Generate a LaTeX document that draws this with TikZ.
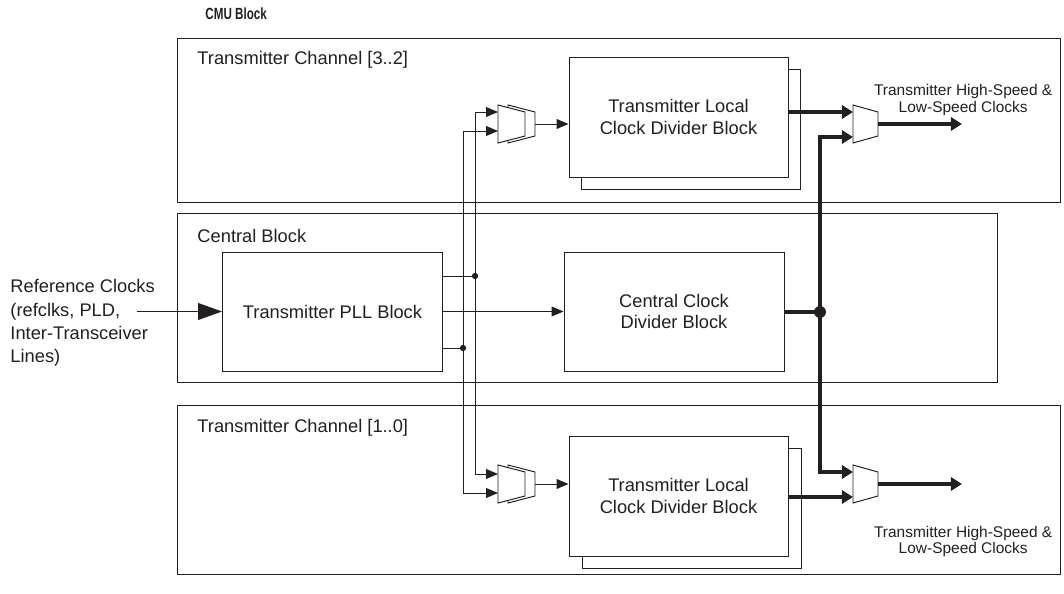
\documentclass[tikz,border=0pt]{standalone}
\usepackage{fontspec}
\setmainfont{Liberation Sans}
\setsansfont{Liberation Sans}
\usetikzlibrary{arrows.meta, positioning}
\definecolor{cink}{HTML}{231F20}
\tikzset{
  every picture/.style={font=\fontsize{13}{15.5}\selectfont, line width=0.7pt, color=cink},
  chanbox/.style={draw, line width=0.9pt, anchor=north west, inner sep=0pt},
  blk/.style={draw, fill=white, align=center, minimum width=5.5cm, minimum height=2.975cm, inner sep=0pt},
  tag/.style={anchor=west, inner sep=0pt},
  wire/.style={-{Triangle[length=8.5pt, width=7pt]}},
  refarrow/.style={-{Triangle[length=17pt, width=12pt]}},
  bus/.style={line width=3.3pt, -{Triangle[length=8pt, width=9.5pt]}},
  mux/.style={draw, fill=white, line join=miter},
  dot/.style={circle, fill, inner sep=0pt, minimum size=4.5pt},
  bigdot/.style={circle, fill, inner sep=0pt, minimum size=8.5pt},
  clklbl/.style={font=\fontsize{11}{11.5}\selectfont, align=center},
}

\begin{document}
\begin{tikzpicture}
  \useasboundingbox (0,0) rectangle (26.6,14.825);
  \node[font=\fontsize{11.5}{13}\selectfont\bfseries, anchor=west, inner sep=0pt] (cmu) at (5.125,14.475) {\scalebox{0.72}[1]{CMU Block}};
  % the three regions
  \node[chanbox, minimum width=22.075cm, minimum height=4.1cm] (chtop) at (4.425,13.875) {};
  \node[chanbox, minimum width=20.5cm, minimum height=4.225cm] (central) at (4.425,9.5) {};
  \node[chanbox, minimum width=22.075cm, minimum height=4.225cm] (chbot) at (4.425,4.7) {};
  \node[tag] (chtoplbl) at ([xshift=0.5cm, yshift=-0.55cm]chtop.north west) {Transmitter Channel [3..2]};
  \node[tag] (centrallbl) at ([xshift=0.5cm, yshift=-0.575cm]central.north west) {Central Block};
  \node[tag] (chbotlbl) at ([xshift=0.5cm, yshift=-0.575cm]chbot.north west) {Transmitter Channel [1..0]};
  % central block
  \node[blk] (pll) at (8.3125,7.0375) {Transmitter PLL Block};
  \node[blk] (cdiv) at (16.85,7.0375) {Central Clock\\Divider Block};
  \node[tag, align=left, font=\fontsize{13}{16.5}\selectfont] (refclk) at (0.25,6.75) {Reference Clocks\\(refclks, PLD,\\Inter-Transceiver\\Lines)};
  \coordinate (refin) at (3.425,7.0375);
  \draw[refarrow] (refin) -- (pll.west);
  \draw[wire] (pll) -- (cdiv);
  \node[dot] (ja) at (11.875,7.925) {};
  \node[dot] (jb) at (11.575,6.125) {};
  \draw (pll.east |- ja) -- (ja.center);
  \draw (pll.east |- jb) -- (jb.center);
  % local clock divider blocks
  \node[blk, minimum width=5.475cm, minimum height=3cm] (ltopbk) at (17.2625,11.6) {};
  \node[blk, minimum width=5.475cm, minimum height=3cm] (ltop) at (16.9625,11.9) {Transmitter Local\\Clock Divider Block};
  \node[blk, minimum width=5.475cm, minimum height=3cm] (lbotbk) at (17.2875,2.125) {};
  \node[blk, minimum width=5.475cm, minimum height=3cm] (lbot) at (16.9625,2.425) {Transmitter Local\\Clock Divider Block};
  % muxes
  \draw[mux] (12.7,12.2) -- ++(0.675,-0.175) -- ++(0,-0.6) -- ++(-0.675,-0.175) -- cycle;
  \draw[mux] (12.45,12.2) -- ++(0.675,-0.175) -- ++(0,-0.6) -- ++(-0.675,-0.175) -- cycle;
  \draw[mux] (12.7,3.2) -- ++(0.675,-0.175) -- ++(0,-0.6) -- ++(-0.675,-0.175) -- cycle;
  \draw[mux] (12.45,3.2) -- ++(0.675,-0.175) -- ++(0,-0.6) -- ++(-0.675,-0.175) -- cycle;
  \draw[mux] (21.325,12.2) -- ++(0.625,-0.175) -- ++(0,-0.6) -- ++(-0.625,-0.175) -- cycle;
  \draw[mux] (21.325,3.2) -- ++(0.625,-0.175) -- ++(0,-0.6) -- ++(-0.625,-0.175) -- cycle;
  \coordinate (mtl-a) at (12.45,12.025);
  \coordinate (mtl-b) at (12.45,11.55);
  \coordinate (mtl-o) at (13.375,11.725);
  \coordinate (mbl-a) at (12.45,2.975);
  \coordinate (mbl-b) at (12.45,2.5);
  \coordinate (mbl-o) at (13.375,2.725);
  \coordinate (mtr-a) at (21.325,12.025);
  \coordinate (mtr-b) at (21.325,11.4);
  \coordinate (mtr-o) at (21.95,11.725);
  \coordinate (mbr-a) at (21.325,3.025);
  \coordinate (mbr-b) at (21.325,2.4);
  \coordinate (mbr-o) at (21.95,2.725);
  % clock routing
  \draw[wire] (ja.center) |- (mtl-a);
  \draw[wire] (ja.center) |- (mbl-a);
  \draw[wire] (jb.center) |- (mtl-b);
  \draw[wire] (jb.center) |- (mbl-b);
  \draw[wire] (mtl-o) -- (mtl-o -| ltop.west);
  \draw[wire] (mbl-o) -- (mbl-o -| lbot.west);
  \node[bigdot] (jn) at (20.5,7.025) {};
  \draw[bus, -] (cdiv.east |- jn) -- (jn.center);
  \draw[bus] (jn.center) |- (mtr-b);
  \draw[bus] (jn.center) |- (mbr-a);
  \draw[bus] (ltop.east |- mtr-a) -- (mtr-a);
  \draw[bus] (lbot.east |- mbr-b) -- (mbr-b);
  \coordinate (outtop) at (24.05,11.725);
  \coordinate (outbot) at (24.05,2.725);
  \draw[bus] (mtr-o) -- (outtop);
  \draw[bus] (mbr-o) -- (outbot);
  \node[clklbl] (clktop) at (24.08,12.325) {Transmitter High-Speed \&\\Low-Speed Clocks};
  \node[clklbl] (clkbot) at (24.08,1.2875) {Transmitter High-Speed \&\\Low-Speed Clocks};
\end{tikzpicture}
\end{document}
